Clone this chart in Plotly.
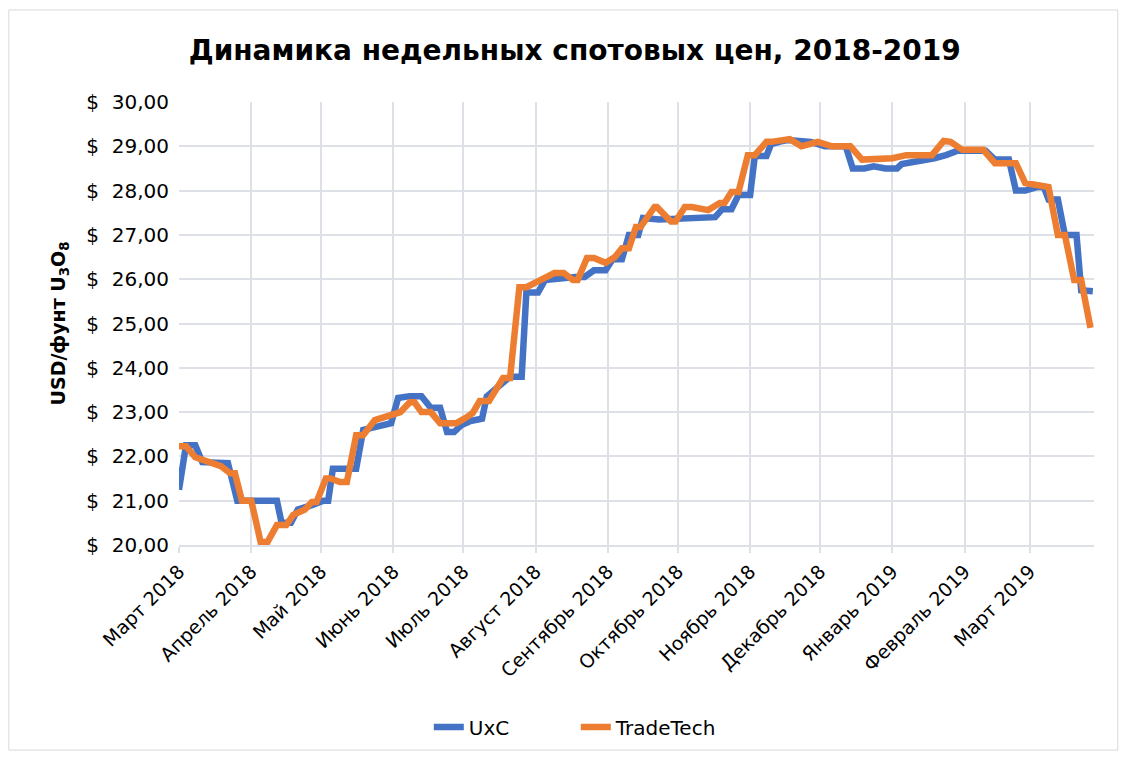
import plotly.graph_objects as go

# UxC weekly spot price (USD/lb U3O8)
uxc_dates = ["2018-03-01", "2018-03-04", "2018-03-08", "2018-03-11", "2018-03-22", "2018-03-26",
             "2018-04-12", "2018-04-14", "2018-04-18", "2018-04-21", "2018-04-27", "2018-05-02",
             "2018-05-04", "2018-05-06", "2018-05-16", "2018-05-19", "2018-05-24", "2018-05-31",
             "2018-06-03", "2018-06-08", "2018-06-13", "2018-06-17", "2018-06-21", "2018-06-24",
             "2018-06-27", "2018-06-30", "2018-07-04", "2018-07-09", "2018-07-11", "2018-07-21",
             "2018-07-26", "2018-07-28", "2018-08-02", "2018-08-05", "2018-08-18", "2018-08-22",
             "2018-08-26", "2018-08-31", "2018-09-03", "2018-09-07", "2018-09-10", "2018-09-14",
             "2018-09-16", "2018-09-23", "2018-10-17", "2018-10-20", "2018-10-24", "2018-10-27",
             "2018-11-01", "2018-11-03", "2018-11-08", "2018-11-10", "2018-11-15", "2018-11-17",
             "2018-11-27", "2018-12-03", "2018-12-12", "2018-12-15", "2018-12-20", "2018-12-24",
             "2018-12-29", "2019-01-03", "2019-01-05", "2019-01-12", "2019-01-19", "2019-01-24",
             "2019-01-29", "2019-02-10", "2019-02-14", "2019-02-20", "2019-02-23", "2019-02-27",
             "2019-03-04", "2019-03-07", "2019-03-09", "2019-03-13", "2019-03-16", "2019-03-21",
             "2019-03-23", "2019-03-28"]
uxc_values = [21.25, 22.25, 22.25, 21.87, 21.85, 21.0,
              21.0, 20.5, 20.5, 20.8, 20.9, 21.0,
              21.0, 21.72, 21.72, 22.6, 22.66, 22.75,
              23.32, 23.36, 23.36, 23.1, 23.1, 22.55,
              22.55, 22.7, 22.8, 22.85, 23.35, 23.8,
              23.8, 25.7, 25.7, 25.98, 26.05, 26.05,
              26.2, 26.2, 26.45, 26.45, 27.0, 27.0,
              27.38, 27.35, 27.4, 27.58, 27.58, 27.9,
              27.9, 28.78, 28.78, 29.05, 29.12, 29.14,
              29.1, 29.0, 29.0, 28.5, 28.5, 28.55,
              28.5, 28.5, 28.6, 28.65, 28.73, 28.8,
              28.9, 28.9, 28.7, 28.7, 28.0, 28.0,
              28.08, 28.08, 27.8, 27.8, 27.0, 27.0,
              25.75, 25.73]

# TradeTech weekly spot price (USD/lb U3O8)
tt_dates = ["2018-03-01", "2018-03-04", "2018-03-08", "2018-03-12", "2018-03-15", "2018-03-19",
            "2018-03-23", "2018-03-25", "2018-03-28", "2018-04-01", "2018-04-05", "2018-04-08",
            "2018-04-12", "2018-04-16", "2018-04-19", "2018-04-24", "2018-04-27", "2018-04-29",
            "2018-05-03", "2018-05-05", "2018-05-09", "2018-05-12", "2018-05-16", "2018-05-19",
            "2018-05-24", "2018-05-29", "2018-06-02", "2018-06-04", "2018-06-08", "2018-06-10",
            "2018-06-13", "2018-06-17", "2018-06-21", "2018-06-28", "2018-07-02", "2018-07-05",
            "2018-07-08", "2018-07-12", "2018-07-18", "2018-07-21", "2018-07-25", "2018-07-28",
            "2018-08-03", "2018-08-09", "2018-08-13", "2018-08-17", "2018-08-19", "2018-08-23",
            "2018-08-26", "2018-08-31", "2018-09-04", "2018-09-07", "2018-09-10", "2018-09-13",
            "2018-09-15", "2018-09-21", "2018-09-22", "2018-09-28", "2018-09-30", "2018-10-04",
            "2018-10-07", "2018-10-12", "2018-10-14", "2018-10-19", "2018-10-21", "2018-10-24",
            "2018-10-27", "2018-10-31", "2018-11-03", "2018-11-08", "2018-11-10", "2018-11-15",
            "2018-11-18", "2018-11-23", "2018-11-30", "2018-12-06", "2018-12-14", "2018-12-19",
            "2018-12-29", "2019-01-01", "2019-01-07", "2019-01-18", "2019-01-23", "2019-01-26",
            "2019-01-31", "2019-02-09", "2019-02-14", "2019-02-23", "2019-02-27", "2019-03-09",
            "2019-03-13", "2019-03-16", "2019-03-20", "2019-03-23", "2019-03-27"]
tt_values = [22.23, 22.23, 21.98, 21.92, 21.85, 21.78,
             21.62, 21.62, 21.0, 21.0, 20.07, 20.07,
             20.45, 20.45, 20.68, 20.8, 20.97, 20.97,
             21.5, 21.5, 21.42, 21.42, 22.48, 22.48,
             22.82, 22.89, 22.98, 23.0, 23.22, 23.22,
             23.0, 23.0, 22.75, 22.75, 22.87, 22.98,
             23.25, 23.25, 23.77, 23.77, 25.82, 25.82,
             25.98, 26.14, 26.14, 25.98, 25.98, 26.48,
             26.48, 26.37, 26.5, 26.7, 26.7, 27.18,
             27.18, 27.63, 27.63, 27.3, 27.3, 27.63,
             27.63, 27.56, 27.56, 27.72, 27.72, 27.97,
             27.97, 28.8, 28.8, 29.1, 29.1, 29.14,
             29.16, 29.0, 29.1, 29.0, 29.0, 28.7,
             28.7, 28.73, 28.8, 28.8, 29.12, 29.1,
             28.92, 28.92, 28.62, 28.62, 28.17, 28.08,
             27.0, 27.0, 25.98, 25.98, 24.9]

month_ticks = ["2018-03-01", "2018-04-01", "2018-05-01", "2018-06-01", "2018-07-01", "2018-08-01",
               "2018-09-01", "2018-10-01", "2018-11-01", "2018-12-01", "2019-01-01", "2019-02-01",
               "2019-03-01"]
month_labels = ["Март 2018", "Апрель 2018", "Май 2018", "Июнь 2018", "Июль 2018", "Август 2018",
                "Сентябрь 2018", "Октябрь 2018", "Ноябрь 2018", "Декабрь 2018", "Январь 2019",
                "Февраль 2019", "Март 2019"]

FONT = "DejaVu Sans"

fig = go.Figure()
fig.add_trace(go.Scatter(x=uxc_dates, y=uxc_values, mode="lines", name="UxC",
                         line=dict(color="#4472C4", width=6.5)))
fig.add_trace(go.Scatter(x=tt_dates, y=tt_values, mode="lines", name="TradeTech",
                         line=dict(color="#ED7D31", width=6.5)))

grid = "#DDE0E6"
fig.update_layout(
    width=1120, height=750,
    paper_bgcolor="white", plot_bgcolor="white",
    separators=", ",
    margin=dict(l=171, r=34, t=94, b=213),
    font=dict(family=FONT, size=18, color="#000000"),
    title=dict(text="<b>Динамика недельных спотовых цен, 2018-2019</b>",
               x=0.506, xref="container", xanchor="center", y=0.944, yanchor="middle",
               font=dict(family=FONT, size=28, color="#000000")),
    xaxis=dict(type="date", range=["2018-03-01", "2019-03-28 12:00"],
               tickmode="array", tickvals=month_ticks, ticktext=month_labels,
               tickangle=-45, showgrid=True, gridcolor=grid, gridwidth=2,
               showline=True, linecolor=grid, linewidth=2,
               ticks="outside", ticklen=6, tickcolor=grid, tickwidth=2,
               tickfont=dict(family=FONT, size=19), zeroline=False),
    yaxis=dict(range=[20, 30], dtick=1, tick0=20, tickformat=".2f", tickprefix="$\u00a0\u00a0",
               showgrid=True, gridcolor=grid, gridwidth=2, zeroline=False,
               ticks="", tickfont=dict(family=FONT, size=20), ticklabelstandoff=9,
               title=dict(text="<b>USD/фунт U<sub>3</sub>O<sub>8</sub></b>", standoff=15,
                          font=dict(family=FONT, size=19))),
    legend=dict(orientation="h", x=0.273, xanchor="left", y=-0.411, yanchor="middle",
                font=dict(family=FONT, size=20), entrywidth=102),
    showlegend=True,
)
fig.add_shape(type="rect", xref="paper", yref="paper", x0=-0.186, x1=1.026, y0=-0.463, y1=1.2077,
              line=dict(color="#D9D9D9", width=1), fillcolor="rgba(0,0,0,0)", layer="below")

fig.write_html("out.html")
